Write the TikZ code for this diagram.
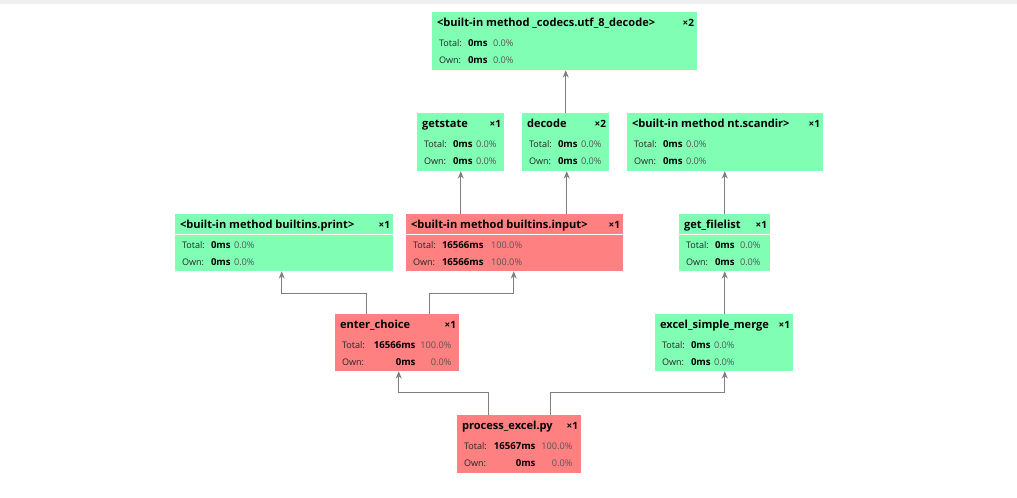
\documentclass[tikz,border=0pt]{standalone}
\usepackage{fontspec}
\setmainfont{Open Sans}
\usetikzlibrary{fit,calc,arrows.meta}
\definecolor{okgreen}{HTML}{80FFB4}
\definecolor{hotred}{HTML}{FF8080}
\definecolor{linegray}{HTML}{7F7F7F}
\definecolor{pctgray}{HTML}{555555}
\definecolor{topband}{HTML}{F0F0F0}
\tikzset{
  pbox/.style={rectangle, draw=none, inner sep=0pt},
  hdr/.style={anchor=base west, inner sep=0pt, font=\fontsize{8.3}{9}\selectfont\bfseries},
  cnt/.style={anchor=base east, inner sep=0pt, font=\fontsize{7.5}{9}\selectfont\bfseries},
  lbl/.style={anchor=base west, inner sep=0pt, font=\fontsize{6.8}{8}\selectfont, text=black!85},
  val/.style={anchor=base west, inner sep=0pt, font=\fontsize{7.2}{8}\selectfont\bfseries},
  valr/.style={val, anchor=base east},
  pct/.style={anchor=base west, inner sep=0pt, font=\fontsize{6.9}{8}\selectfont, text=pctgray},
  pctr/.style={pct, anchor=base east},
  conn/.style={draw=linegray, line width=0.75pt, -{Stealth[length=5.5pt,width=4.5pt]}},
  sepline/.style={draw=white, line width=0.75pt},
}
% #1 name, #2 fill, #3 corner1, #4 corner2, #5 header, #6 count
\newcommand\profbox[6]{%
  \node[pbox, fill=#2, fit={(#3) (#4)}] (#1) {};
  \node[hdr] (#1-h) at ($(#1.north west)+(5,15)$) {#5};
  \node[cnt] (#1-c) at ($(#1.north east)+(-3,15)$) {#6};
}
% left-aligned rows: #1 name, #2 tot value, #3 tot pct, #4 own value, #5 own pct, #6 pct offset
\newcommand\profrows[6]{%
  \node[lbl] (#1-tl) at ($(#1.north west)+(7,35)$) {Total:};
  \node[val] (#1-tv) at ($(#1.north west)+(36,35)$) {#2};
  \node[pct] (#1-tp) at ($(#1.north west)+(#6,35)$) {#3};
  \node[lbl] (#1-ol) at ($(#1.north west)+(7,52)$) {Own:};
  \node[val] (#1-ov) at ($(#1.north west)+(36,52)$) {#4};
  \node[pct] (#1-op) at ($(#1.north west)+(#6,52)$) {#5};
}
% right-aligned rows: #1 name, #2 tot v, #3 tot p, #4 own v, #5 own p, #6 value right, #7 pct right
\newcommand\profrowsR[7]{%
  \node[lbl] (#1-tl) at ($(#1.north west)+(7,35)$) {Total:};
  \node[valr] (#1-tv) at ($(#1.north west)+(#6,35)$) {#2};
  \node[pctr] (#1-tp) at ($(#1.north west)+(#7,35)$) {#3};
  \node[lbl] (#1-ol) at ($(#1.north west)+(7,52)$) {Own:};
  \node[valr] (#1-ov) at ($(#1.north west)+(#6,52)$) {#4};
  \node[pctr] (#1-op) at ($(#1.north west)+(#7,52)$) {#5};
}
\newcommand\profsep[1]{%
  \draw[sepline] ($(#1.north west)+(0,21)$) -- ($(#1.north east)+(0,21)$);
}
\begin{document}
\begin{tikzpicture}[x=0.75pt,y=-0.75pt]
\useasboundingbox (0,0) rectangle (1017,498);
\fill[white] (0,0) rectangle (1017,498);
\fill[topband] (0,0) rectangle (1017,4);

\profbox{utf}{okgreen}{432,12}{697,70}{<built-in method \_codecs.utf\_8\_decode>}{×2}
\profrows{utf}{0ms}{0.0\%}{0ms}{0.0\%}{61}

\profbox{gst}{okgreen}{417,113}{504,171}{getstate}{×1}
\profrows{gst}{0ms}{0.0\%}{0ms}{0.0\%}{59}

\profbox{dec}{okgreen}{522,113}{609,171}{decode}{×2}
\profrows{dec}{0ms}{0.0\%}{0ms}{0.0\%}{59}

\profbox{scan}{okgreen}{627,113}{823,171}{<built-in method nt.scandir>}{×1}
\profrows{scan}{0ms}{0.0\%}{0ms}{0.0\%}{59}

\profbox{prt}{okgreen}{175,214}{393,271}{<built-in method builtins.print>}{×1}
\profrows{prt}{0ms}{0.0\%}{0ms}{0.0\%}{59}
\profsep{prt}

\profbox{inp}{hotred}{406,214}{623,271}{<built-in method builtins.input>}{×1}
\profrows{inp}{16566ms}{100.0\%}{16566ms}{100.0\%}{85}
\profsep{inp}

\profbox{gfl}{okgreen}{679,214}{770,271}{get\_filelist}{×1}
\profrows{gfl}{0ms}{0.0\%}{0ms}{0.0\%}{61}
\profsep{gfl}

\profbox{ent}{hotred}{335,314}{459,371}{enter\_choice}{×1}
\profrowsR{ent}{16566ms}{100.0\%}{0ms}{0.0\%}{81}{117}

\profbox{mrg}{okgreen}{655,314}{793,371}{excel\_simple\_merge}{×1}
\profrows{mrg}{0ms}{0.0\%}{0ms}{0.0\%}{59}

\profbox{proc}{hotred}{457,415}{581,473}{process\_excel.py}{×1}
\profrowsR{proc}{16567ms}{100.0\%}{0ms}{0.0\%}{79}{116}

% connectors
\draw[conn] ($(proc.north west)+(32,0)$) -- ++(0,-22) -| ($(ent.south west)+(64,0)$);
\draw[conn] ($(proc.north west)+(94,0)$) -- ++(0,-22) -| ($(mrg.south west)+(70,0)$);
\draw[conn] ($(ent.north west)+(32,0)$) -- ++(0,-20) -| ($(prt.south west)+(107,0)$);
\draw[conn] ($(ent.north west)+(95,0)$) -- ++(0,-20) -| ($(inp.south west)+(108,0)$);
\draw[conn] ($(inp.north west)+(55,0)$) coordinate (c1) -- (c1 |- gst.south);
\draw[conn] ($(inp.north west)+(161,0)$) coordinate (c2) -- (c2 |- dec.south);
\draw[conn] ($(dec.north west)+(44,0)$) coordinate (c3) -- (c3 |- utf.south);
\draw[conn] ($(mrg.north west)+(70,0)$) coordinate (c4) -- (c4 |- gfl.south);
\draw[conn] ($(gfl.north west)+(46,0)$) coordinate (c5) -- (c5 |- scan.south);
\end{tikzpicture}
\end{document}
